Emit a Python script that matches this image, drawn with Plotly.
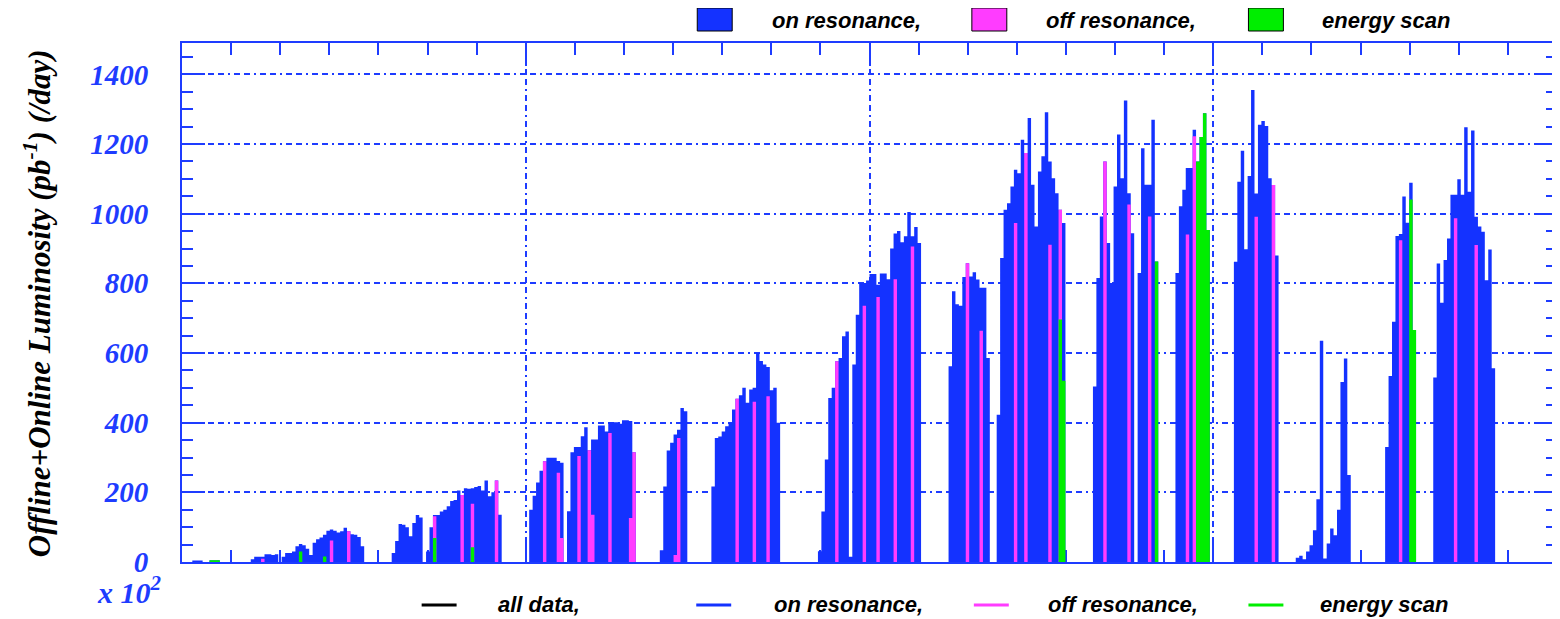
import plotly.graph_objects as go

# ---------------- data (daily luminosity, pb^-1 per day) ----------------
N_DAYS = 400

# total ("all data") luminosity, given as runs of consecutive days
run_start = [3, 8, 20, 29, 61, 71, 101, 112, 139, 154, 185, 195, 223, 237,
             265, 270, 278, 289, 306, 324, 350, 364]
run_vals = [
    [4, 4, 4],
    [5, 5, 5],
    [8, 15, 15, 15, 22, 22, 20, 22],
    [15, 26, 26, 30, 45, 52, 48, 38, 20, 55, 65, 70, 78, 90, 93, 90, 85, 88,
     98, 88, 80, 78, 72, 45],
    [26, 60, 109, 107, 100, 74, 112, 135, 128],
    [30, 100, 135, 135, 145, 150, 160, 175, 178, 205, 192, 212, 210, 212,
     215, 218, 205, 234, 189, 200, 234, 136],
    [150, 190, 228, 262, 289, 299, 299, 299, 290, 285],
    [146, 315, 330, 330, 361, 387, 321, 352, 352, 392, 392, 375, 401, 401,
     401, 397, 407, 407, 405, 315],
    [34, 217, 320, 342, 366, 380, 442, 433],
    [217, 356, 360, 375, 390, 400, 438, 469, 479, 500, 457, 495, 500, 600,
     577, 567, 560, 493, 500, 400],
    [31, 145, 294, 471, 500, 576, 586, 648, 662, 15],
    [567, 710, 801, 801, 808, 827, 827, 796, 828, 828, 812, 900, 943, 950,
     918, 935, 1005, 935, 962, 916],
    [562, 777, 740, 736, 818, 858, 820, 832, 811, 787, 787, 586],
    [423, 873, 1011, 1030, 1078, 1126, 1116, 1212, 1174, 1275, 1083, 963,
     1121, 1165, 1291, 1150, 1102, 1059, 1011, 973],
    [504, 815, 992, 1150, 916],
    [801, 1078, 1227, 1102, 1325, 1059, 944],
    [830, 1188, 1083, 1083, 1270, 863],
    [830, 1021, 1069, 1131, 1131, 1241, 1150, 1220, 1288, 953],
    [862, 1092, 1181, 898, 1108, 1355, 1058, 1255, 1266, 1252, 1102, 1082, 880],
    [12, 18, 8, 30, 48, 91, 180, 635, 10, 53, 96, 77, 150, 517, 584, 250],
    [330, 534, 690, 936, 942, 1049, 974, 1089, 666],
    [530, 857, 744, 867, 929, 1054, 1054, 1099, 1054, 1248, 1063, 1239, 991,
     963, 948, 809, 897, 556],
]

# off resonance days
off_day = [23, 43, 48, 73, 81, 84, 91, 105, 109, 110, 115, 118, 119, 124, 130,
           131, 143, 144, 161, 166, 170, 190, 198, 202, 207, 212, 228, 232,
           242, 245, 252, 255, 268, 275, 281, 292, 294, 312, 317, 354, 370, 376]
off_val = [9, 62, 88, 131, 192, 167, 234, 289, 256, 69, 304, 321, 136, 370, 126,
           315, 20, 356, 469, 460, 476, 576, 736, 761, 812, 906, 858, 664,
           973, 1174, 911, 1011, 1150, 1026, 992, 940, 1222, 991, 1082, 924,
           987, 910]

# energy scan days
scan_day = [8, 9, 10, 34, 41, 73, 84, 255, 256, 283, 295, 296, 297, 298, 357, 358]
scan_val = [5, 5, 5, 30, 16, 69, 42, 696, 520, 863, 1150, 1220, 1288, 953, 1041, 666]

legend_top = ["on resonance,", "off resonance,", "energy scan"]
legend_bottom = ["all data,", "on resonance,", "off resonance,", "energy scan"]

# ---------------- build daily histograms ----------------
total = [0] * N_DAYS
for s, vals in zip(run_start, run_vals):
    for i, v in enumerate(vals):
        total[s + i] = v
off_full = [0] * N_DAYS
for d, v in zip(off_day, off_val):
    off_full[d] = v
scan_full = [0] * N_DAYS
for d, v in zip(scan_day, scan_val):
    scan_full[d] = v

edges = list(range(N_DAYS + 1))   # bin edges (days)

BLUE = "rgb(20,50,255)"
PINK = "rgb(255,60,255)"
GREEN = "rgb(0,238,0)"
AXIS = "rgb(30,60,255)"

fig = go.Figure()
for vals, col, name in [(total, BLUE, "on resonance"),
                        (off_full, PINK, "off resonance"),
                        (scan_full, GREEN, "energy scan")]:
    fig.add_scatter(x=edges, y=vals + [0], mode="lines",
                    line=dict(width=0, shape="hv", color=col),
                    fill="tozeroy", fillcolor=col, name=name)

# page body has an 8px margin: figure is drawn from (8, 8)
OFF = 8
W, H = 1560 - OFF, 619 - OFF
L, R, T, B = 182 - OFF, 1, 43 - OFF, 57
PW, PH = W - L - R, H - T - B


def px(xp):
    return (xp - OFF - L) / PW


def py(yp):
    return (H - B - (yp - OFF)) / PH


GRIDDASH = "6px,4px,6px,4px,2px,4px"
axis_common = dict(showline=True, linecolor=AXIS, linewidth=2, mirror="ticks",
                   ticks="inside", tickcolor=AXIS, tickwidth=2, ticklen=23,
                   showgrid=True, gridcolor=AXIS, gridwidth=1.5, griddash=GRIDDASH,
                   zeroline=False, layer="below traces")

fig.update_xaxes(range=[0, 400], tick0=0, dtick=100, showticklabels=False,
                 minor=dict(tick0=0, dtick=100 / 7, ticks="inside", ticklen=12,
                            tickwidth=2, tickcolor=AXIS, showgrid=False),
                 **axis_common)
fig.update_yaxes(range=[0, 1490], tick0=0, dtick=200,
                 tickfont=dict(family="Liberation Serif", size=29, color=AXIS,
                               weight="bold", style="italic"),
                 ticklabelstandoff=26,
                 minor=dict(tick0=0, dtick=50, ticks="inside", ticklen=11,
                            tickwidth=2, tickcolor=AXIS, showgrid=False),
                 **axis_common)

LEGFONT = dict(family="Liberation Sans", size=22, color="black",
               weight="bold", style="italic")
SERIF = dict(family="Liberation Serif", weight="bold", style="italic")

shapes = []
annotations = []

# top legend: filled boxes
top_box_x = [698, 973, 1250]
top_text_x = [771, 1045, 1322]
top_cols = [BLUE, PINK, GREEN]
for bx, tx, col, lab in zip(top_box_x, top_text_x, top_cols, legend_top):
    shapes.append(dict(type="rect", xref="paper", yref="paper",
                       x0=px(bx), x1=px(bx + 35), y0=py(31), y1=py(8),
                       fillcolor=col, line=dict(color="black", width=1)))
    annotations.append(dict(text=lab, xref="paper", yref="paper", x=px(tx), y=py(20),
                            xanchor="left", yanchor="middle", showarrow=False,
                            font=LEGFONT))

# bottom legend: line samples
bot_line_x = [422, 697, 975, 1250]
bot_text_x = [496, 773, 1047, 1320]
bot_cols = ["black", BLUE, PINK, GREEN]
for lx, tx, col, lab in zip(bot_line_x, bot_text_x, bot_cols, legend_bottom):
    shapes.append(dict(type="line", xref="paper", yref="paper",
                       x0=px(lx), x1=px(lx + 35), y0=py(605), y1=py(605),
                       line=dict(color=col, width=3)))
    annotations.append(dict(text=lab, xref="paper", yref="paper", x=px(tx), y=py(604),
                            xanchor="left", yanchor="middle", showarrow=False,
                            font=LEGFONT))

annotations.append(dict(text="Offline+Online Luminosity (pb<sup>-1</sup>) (/day)",
                        xref="paper", yref="paper", x=px(37), y=py(303),
                        xanchor="center", yanchor="middle", textangle=-90,
                        showarrow=False, font=dict(size=31, color="black", **SERIF)))
annotations.append(dict(text="x 10<sup>2</sup>", xref="paper", yref="paper",
                        x=px(95), y=py(590), xanchor="left", yanchor="middle",
                        showarrow=False, font=dict(size=30, color=AXIS, **SERIF)))

fig.update_layout(width=W, height=H, margin=dict(l=L, r=R, t=T, b=B),
                  paper_bgcolor="white", plot_bgcolor="white",
                  showlegend=False, shapes=shapes, annotations=annotations)

fig.write_html("out.html")
